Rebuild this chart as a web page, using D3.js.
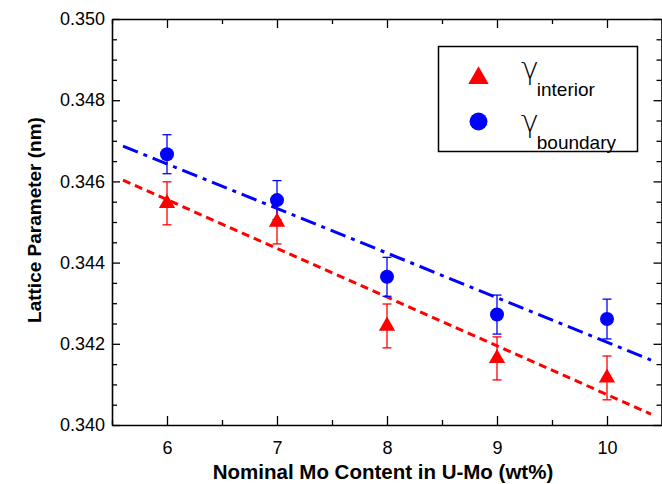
<!DOCTYPE html>
<html>
<head>
<meta charset="utf-8">
<script src="https://cdn.jsdelivr.net/npm/d3@7"></script>
<style>
  html, body { margin: 0; padding: 0; background: #fff; }
  svg { display: block; }
  text { font-family: "Liberation Sans", Arial, sans-serif; fill: #000; }
</style>
</head>
<body>
<svg id="chart" width="662" height="484"></svg>
<script>
// ---- data ----
const moContent = [6, 7, 8, 9, 10];
const interiorValues = [0.34546, 0.34500, 0.34244, 0.34164, 0.34116];
const interiorErrors = [0.00053, 0.00054, 0.00054, 0.00053, 0.00054];
const boundaryValues = [0.34667, 0.34554, 0.34365, 0.34272, 0.34261];
const boundaryErrors = [0.00048, 0.00048, 0.00048, 0.00048, 0.00049];
const fitX = [5.6, 10.4];
const interiorFit = [0.34603, 0.34027];
const boundaryFit = [0.34687, 0.34160];
const xTicks = [6, 7, 8, 9, 10];
const yTicks = [0.340, 0.342, 0.344, 0.346, 0.348, 0.350];
const xTitle = "Nominal Mo Content in U-Mo (wt%)";
const yTitle = "Lattice Parameter (nm)";
const legendLabels = [["γ", "interior"], ["γ", "boundary"]];

const svg = d3.select("#chart");
const L = 112, R = 662, T = 19, B = 425;

const x = d3.scaleLinear().domain([5.5, 10.5]).range([L, R]);
const y = d3.scaleLinear().domain([0.340, 0.350]).range([B, T]);

const red = "#ff0000", blue = "#0000ff";

// ---- axes ----
const xMinor = d3.range(5.5, 10.51, 0.5).filter(v => !xTicks.includes(v));
const yMinor = d3.range(0, 21).map(i => 0.340 + i * 0.0005).filter(v => !yTicks.some(t => Math.abs(t - v) < 1e-9));

function drawAxis(axisGen, transform) {
  const g = svg.append("g").attr("transform", transform).call(axisGen);
  g.select(".domain").attr("stroke", "#000").attr("stroke-width", 1.6);
  g.selectAll(".tick line").attr("stroke", "#000").attr("stroke-width", 1.3);
  return g;
}

// bottom axis (labels + inward ticks)
const gxb = drawAxis(d3.axisBottom(x).tickValues(xTicks).tickSize(-9).tickSizeOuter(0).tickPadding(16).tickFormat(d3.format("d")), `translate(0,${B})`);
gxb.selectAll("text").attr("font-size", 18).attr("font-family", "Liberation Sans, Arial, sans-serif").attr("fill", "#000");
drawAxis(d3.axisBottom(x).tickValues(xMinor).tickSize(-5).tickSizeOuter(0).tickFormat(""), `translate(0,${B})`).select(".domain").remove();
// top axis
drawAxis(d3.axisTop(x).tickValues(xTicks).tickSize(-9).tickSizeOuter(0).tickFormat(""), `translate(0,${T})`);
drawAxis(d3.axisTop(x).tickValues(xMinor).tickSize(-5).tickSizeOuter(0).tickFormat(""), `translate(0,${T})`).select(".domain").remove();
// left axis
const gyl = drawAxis(d3.axisLeft(y).tickValues(yTicks).tickSize(-8).tickSizeOuter(0).tickPadding(7).tickFormat(d3.format(".3f")), `translate(${L},0)`);
gyl.selectAll("text").attr("font-size", 18).attr("font-family", "Liberation Sans, Arial, sans-serif").attr("fill", "#000");
drawAxis(d3.axisLeft(y).tickValues(yMinor).tickSize(-5).tickSizeOuter(0).tickFormat(""), `translate(${L},0)`).select(".domain").remove();
// right axis
drawAxis(d3.axisRight(y).tickValues(yTicks).tickSize(-8).tickSizeOuter(0).tickFormat(""), `translate(${R - 0.5},0)`);
drawAxis(d3.axisRight(y).tickValues(yMinor).tickSize(-5).tickSizeOuter(0).tickFormat(""), `translate(${R - 0.5},0)`).select(".domain").remove();

// ---- axis titles ----
svg.append("text")
  .attr("x", (L + R) / 2 - 4).attr("y", 479)
  .attr("text-anchor", "middle")
  .attr("font-size", 20.5).attr("font-weight", "bold")
  .text(xTitle);

svg.append("text")
  .attr("transform", `translate(41,${220}) rotate(-90)`)
  .attr("text-anchor", "middle")
  .attr("font-size", 19).attr("font-weight", "bold")
  .text(yTitle);

// ---- fit lines ----
const line = d3.line().x(d => x(d[0])).y(d => y(d[1]));
svg.append("path")
  .datum(fitX.map((v, i) => [v, interiorFit[i]]))
  .attr("d", line).attr("fill", "none")
  .attr("stroke", red).attr("stroke-width", 3).attr("stroke-dasharray", "8,5");
svg.append("path")
  .datum(fitX.map((v, i) => [v, boundaryFit[i]]))
  .attr("d", line).attr("fill", "none")
  .attr("stroke", blue).attr("stroke-width", 3).attr("stroke-dasharray", "16,6,4,6");

// ---- error bars ----
function errorBars(vals, errs, color) {
  const g = svg.append("g").attr("stroke", color).attr("stroke-width", 1.3).attr("fill", "none");
  moContent.forEach((m, i) => {
    const cx = x(m), y1 = y(vals[i] + errs[i]), y2 = y(vals[i] - errs[i]);
    g.append("line").attr("x1", cx).attr("x2", cx).attr("y1", y1).attr("y2", y2);
    g.append("line").attr("x1", cx - 4.5).attr("x2", cx + 4.5).attr("y1", y1).attr("y2", y1);
    g.append("line").attr("x1", cx - 4.5).attr("x2", cx + 4.5).attr("y1", y2).attr("y2", y2);
  });
}
errorBars(interiorValues, interiorErrors, red);
errorBars(boundaryValues, boundaryErrors, blue);

// ---- markers ----
const tri = d3.symbol().type(d3.symbolTriangle).size(115);
svg.append("g").selectAll("path")
  .data(moContent.map((m, i) => [m, interiorValues[i]]))
  .join("path")
  .attr("d", tri)
  .attr("transform", d => `translate(${x(d[0])},${y(d[1])})`)
  .attr("fill", red);

svg.append("g").selectAll("circle")
  .data(moContent.map((m, i) => [m, boundaryValues[i]]))
  .join("circle")
  .attr("cx", d => x(d[0])).attr("cy", d => y(d[1])).attr("r", 7)
  .attr("fill", blue);

// ---- legend ----
const lg = svg.append("g");
lg.append("rect").attr("x", 438.5).attr("y", 46.5).attr("width", 199).attr("height", 105)
  .attr("fill", "#fff").attr("stroke", "#000").attr("stroke-width", 1.5);
lg.append("path").attr("d", d3.symbol().type(d3.symbolTriangle).size(180))
  .attr("transform", "translate(478.5,78)").attr("fill", red);
lg.append("circle").attr("cx", 478.5).attr("cy", 121.5).attr("r", 9).attr("fill", blue);
legendLabels.forEach((lab, i) => {
  const t = lg.append("text").attr("x", 521).attr("y", 79 + i * 53);
  t.append("tspan").attr("font-size", 30).attr("font-family", "DejaVu Sans").attr("font-weight", 200).text(lab[0]);
  t.append("tspan").attr("font-size", 19).attr("dx", -2).attr("dy", 17).text(lab[1]);
});
</script>
</body>
</html>
